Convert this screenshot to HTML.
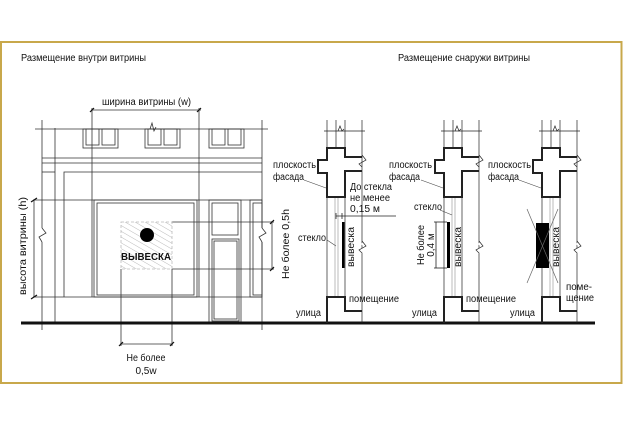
<!DOCTYPE html>
<html><head><meta charset="utf-8"><style>
html,body{margin:0;padding:0;background:#fff}
svg{display:block}
text{font-family:"Liberation Sans",sans-serif;font-size:10px;fill:#111}
</style></head><body>
<svg width="623" height="425" viewBox="0 0 623 425" xmlns="http://www.w3.org/2000/svg">
<defs>
<pattern id="h" width="5" height="5" patternUnits="userSpaceOnUse" patternTransform="rotate(-60)">
<line x1="0" y1="0" x2="0" y2="5" stroke="#bbb" stroke-width="1"/>
</pattern>
<g id="unit" fill="none" stroke="#222">
<g stroke-width="0.7">
<line x1="0" y1="120" x2="0" y2="148"/><line x1="9" y1="120" x2="9" y2="148"/>
<line x1="18" y1="120" x2="18" y2="148"/><line x1="35" y1="120" x2="35" y2="323"/>
<line x1="-3" y1="131" x2="38" y2="131"/>
<polyline points="11,131 13,126 15,131 17,129" />
<line x1="0" y1="197" x2="0" y2="297"/><line x1="18" y1="197" x2="18" y2="297"/>
<polyline points="35,243 39,247 33,251 35,253" stroke="#fff" stroke-width="3"/>
<polyline points="35,241 39,246 32,250 35,253"/>
<polyline points="35,155 39,160 32,164 35,167" />
</g>
<g stroke="#aaa" stroke-width="0.8"><line x1="8" y1="197" x2="8" y2="297"/><line x1="11" y1="197" x2="11" y2="297"/></g>
<path d="M35,157 H18 V148 H0 V160 H-9 V173 H0 V197 H18 V171 H35" stroke-width="2"/>
<path d="M0,323 V297 H18 V311 H35" stroke-width="2"/>
</g>
</defs>
<rect x="1" y="42" width="620.5" height="341" fill="none" stroke="#c8a84b" stroke-width="2"/>

<text x="21" y="61" textLength="125" lengthAdjust="spacingAndGlyphs">Размещение внутри витрины</text>
<text x="398" y="61" textLength="132" lengthAdjust="spacingAndGlyphs">Размещение снаружи витрины</text>

<g fill="none" stroke="#333" stroke-width="0.8">
<line x1="42" y1="120" x2="42" y2="330"/><line x1="55" y1="128" x2="55" y2="324"/>
<line x1="262" y1="120" x2="262" y2="330"/>
<line x1="35" y1="129" x2="268" y2="129"/>
<line x1="42" y1="158" x2="262" y2="158"/><line x1="42" y1="163" x2="262" y2="163"/>
<line x1="42" y1="172" x2="55" y2="172"/>
<polyline points="64,297 64,172 262,172"/>
<rect x="83" y="129" width="35" height="19"/><rect x="86" y="129" width="13" height="16"/><rect x="102" y="129" width="13" height="16"/>
<rect x="145" y="129" width="35" height="19"/><rect x="148" y="129" width="13" height="16"/><rect x="164" y="129" width="13" height="16"/>
<rect x="209" y="129" width="35" height="19"/><rect x="212" y="129" width="13" height="16"/><rect x="228" y="129" width="13" height="16"/>
<polyline points="150,129 152,123 154,131 156,127"/>
<rect x="94" y="200" width="103" height="97"/><rect x="97" y="203" width="97" height="92"/>
<rect x="209" y="200" width="32" height="124"/><rect x="212" y="203" width="26" height="32"/>
<rect x="212" y="239" width="27" height="82"/><rect x="214" y="241" width="23" height="78"/>
<rect x="250" y="200" width="12" height="97"/><rect x="253" y="203" width="9" height="92"/>
<line x1="33" y1="200" x2="262" y2="200"/><line x1="33" y1="297" x2="262" y2="297"/>
<line x1="34" y1="200" x2="34" y2="297"/>
<line x1="92" y1="108" x2="92" y2="297"/><line x1="199" y1="108" x2="199" y2="297"/>
<line x1="91" y1="110" x2="201" y2="110"/>
<line x1="172" y1="222" x2="274" y2="222"/><line x1="172" y1="269" x2="274" y2="269"/>
<line x1="272" y1="221" x2="272" y2="270"/>
<line x1="121" y1="269" x2="121" y2="346"/><line x1="172" y1="269" x2="172" y2="346"/>
<line x1="120" y1="344" x2="173" y2="344"/>
</g>
<g stroke="#fff" stroke-width="3"><line x1="42" y1="228" x2="42" y2="242"/><line x1="262" y1="228" x2="262" y2="242"/></g>
<g fill="none" stroke="#333" stroke-width="0.8">
<polyline points="42,228 46,233 39,237 42,242"/><polyline points="262,228 266,233 259,237 262,242"/>
</g>
<g stroke="#111" stroke-width="1.2">
<line x1="31" y1="202" x2="37" y2="198"/><line x1="31" y1="299" x2="37" y2="295"/>
<line x1="90" y1="112" x2="94" y2="108"/><line x1="197" y1="112" x2="201" y2="108"/>
<line x1="270" y1="224" x2="274" y2="220"/><line x1="270" y1="271" x2="274" y2="267"/>
<line x1="119" y1="346" x2="123" y2="342"/><line x1="170" y1="346" x2="174" y2="342"/>
</g>
<rect x="121" y="222" width="51" height="47" fill="url(#h)" stroke="#bbb" stroke-width="0.8" stroke-dasharray="3,2"/>
<circle cx="147" cy="235" r="7" fill="#000"/>
<text x="146" y="260" text-anchor="middle" textLength="50" lengthAdjust="spacingAndGlyphs" style="font-weight:bold;font-size:10px">ВЫВЕСКА</text>
<text x="102" y="105" textLength="89" lengthAdjust="spacingAndGlyphs">ширина витрины (w)</text>
<text transform="translate(26,246) rotate(-90)" text-anchor="middle" textLength="98" lengthAdjust="spacingAndGlyphs">высота витрины (h)</text>
<text transform="translate(289,244) rotate(-90)" text-anchor="middle" textLength="70" lengthAdjust="spacingAndGlyphs">Не более 0,5h</text>
<text x="146" y="361" text-anchor="middle" textLength="39" lengthAdjust="spacingAndGlyphs">Не более</text>
<text x="146" y="374" text-anchor="middle">0,5w</text>

<line x1="21" y1="323" x2="595" y2="323" stroke="#111" stroke-width="3"/>

<use href="#unit" x="327"/>
<use href="#unit" x="444"/>
<use href="#unit" x="542"/>

<g fill="none" stroke="#444" stroke-width="0.6">
<line x1="304" y1="180" x2="326" y2="188"/><line x1="327" y1="240" x2="336" y2="246"/>
<line x1="421" y1="180" x2="443" y2="188"/><line x1="440" y1="210" x2="452" y2="215"/>
<line x1="519" y1="180" x2="541" y2="188"/>
</g>
<line x1="336" y1="216" x2="396" y2="216" stroke="#222" stroke-width="0.8"/>
<line x1="336" y1="213" x2="336" y2="219" stroke="#222" stroke-width="0.8"/>
<line x1="342" y1="213" x2="342" y2="219" stroke="#222" stroke-width="0.8"/>
<rect x="342" y="222" width="2.5" height="46" fill="#000"/>
<text x="273" y="168" textLength="43" lengthAdjust="spacingAndGlyphs">плоскость</text><text x="273" y="180" textLength="31" lengthAdjust="spacingAndGlyphs">фасада</text>
<text x="350" y="190" textLength="42" lengthAdjust="spacingAndGlyphs">До стекла</text><text x="350" y="201" textLength="40" lengthAdjust="spacingAndGlyphs">не менее</text><text x="350" y="212" textLength="30" lengthAdjust="spacingAndGlyphs">0,15 м</text>
<text x="298" y="241" textLength="28" lengthAdjust="spacingAndGlyphs">стекло</text>
<text transform="translate(354,247) rotate(-90)" text-anchor="middle" textLength="40" lengthAdjust="spacingAndGlyphs">вывеска</text>
<text x="349" y="302" textLength="50" lengthAdjust="spacingAndGlyphs">помещение</text><text x="296" y="316" textLength="25" lengthAdjust="spacingAndGlyphs">улица</text>

<rect x="447" y="222" width="3" height="46" fill="#000"/>
<g stroke="#222" stroke-width="0.8"><line x1="436" y1="222" x2="436" y2="268"/><line x1="434" y1="222" x2="447" y2="222"/><line x1="434" y1="268" x2="447" y2="268"/></g>
<text x="389" y="168" textLength="43" lengthAdjust="spacingAndGlyphs">плоскость</text><text x="389" y="180" textLength="31" lengthAdjust="spacingAndGlyphs">фасада</text>
<text x="414" y="210" textLength="28" lengthAdjust="spacingAndGlyphs">стекло</text>
<text transform="translate(424,245) rotate(-90)" text-anchor="middle" textLength="40" lengthAdjust="spacingAndGlyphs">Не более</text>
<text transform="translate(434,245) rotate(-90)" text-anchor="middle">0,4 м</text>
<text transform="translate(461,247) rotate(-90)" text-anchor="middle" textLength="40" lengthAdjust="spacingAndGlyphs">вывеска</text>
<text x="466" y="302" textLength="50" lengthAdjust="spacingAndGlyphs">помещение</text><text x="412" y="316" textLength="25" lengthAdjust="spacingAndGlyphs">улица</text>

<rect x="536" y="223" width="13" height="45" fill="#000"/>
<g stroke="#666" stroke-width="0.7"><line x1="527" y1="209" x2="558" y2="283"/><line x1="558" y1="209" x2="527" y2="283"/></g>
<text x="488" y="168" textLength="43" lengthAdjust="spacingAndGlyphs">плоскость</text><text x="488" y="180" textLength="31" lengthAdjust="spacingAndGlyphs">фасада</text>
<text transform="translate(559,247) rotate(-90)" text-anchor="middle" textLength="40" lengthAdjust="spacingAndGlyphs">вывеска</text>
<text x="566" y="290" textLength="26" lengthAdjust="spacingAndGlyphs">поме-</text><text x="566" y="301" textLength="28" lengthAdjust="spacingAndGlyphs">щение</text>
<text x="510" y="316" textLength="25" lengthAdjust="spacingAndGlyphs">улица</text>
</svg>
</body></html>
